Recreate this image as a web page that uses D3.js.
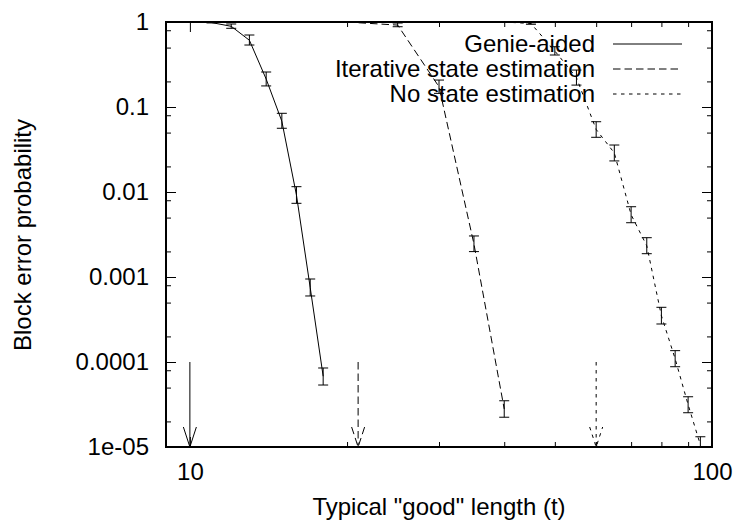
<!DOCTYPE html>
<html>
<head>
<meta charset="utf-8">
<script src="https://cdn.jsdelivr.net/npm/d3@7"></script>
<style>
  body { margin: 0; background: #fff; }
  text { font-family: "Liberation Sans", Arial, Helvetica, sans-serif; fill: #000; }
</style>
</head>
<body>
<div id="chart"></div>
<script>
// values
const genieT = [10, 11, 12, 13, 14, 15, 16, 17, 18]
const genieP = [0.999, 0.985, 0.89, 0.61, 0.213, 0.068, 0.0092, 0.00075, 0.000068]
const genieLo = [0.997, 0.975, 0.843, 0.536, 0.177, 0.0562, 0.00736, 0.000598, 0.0000536]
const genieHi = [1.0, 0.993, 0.947, 0.703, 0.258, 0.0843, 0.01155, 0.000947, 0.000085]

const iterT = [20, 25, 30, 35, 40]
const iterP = [0.998, 0.92, 0.173, 0.00244, 0.000028]
const iterLo = [0.995, 0.88, 0.1447, 0.00199, 0.0000224]
const iterHi = [1.0, 0.973, 0.2075, 0.00304, 0.000035]

const noT = [40, 45, 50, 55, 60, 65, 70, 75, 80, 85, 90, 95]
const noP = [0.999, 0.96, 0.456, 0.222, 0.0544, 0.0288, 0.0054, 0.00233, 0.00035, 0.000109, 0.0000315, 0.0000106]
const noLo = [0.997, 0.94, 0.409, 0.181, 0.044, 0.0232, 0.00435, 0.00188, 0.00028, 0.000088, 0.0000253, 0.0000085]
const noHi = [1.0, 0.98, 0.512, 0.272, 0.0671, 0.0357, 0.00671, 0.0029, 0.00044, 0.000136, 0.000039, 0.0000132]

// vertical arrows (one per series)
const arrowT = [10, 21, 60]
const arrowFrom = 1e-4
const arrowTo = 1e-5

const legendNames = ['Genie-aided', 'Iterative state estimation', 'No state estimation']

const xMajor = [10, 100]
const xMinor = [20, 30, 40, 50, 60, 70, 80, 90]
const yMajor = [1, 0.1, 0.01, 0.001, 0.0001, 0.00001]
const yLabels = ['1', '0.1', '0.01', '0.001', '0.0001', '1e-05']
const yMinor = [0.8, 0.5, 0.2, 0.08, 0.05, 0.02, 0.008, 0.005, 0.002,
  0.0008, 0.0005, 0.0002, 0.00008, 0.00005, 0.00002]

const margin = { top: 22, left: 166, right: 27, bottom: 78 }
const width = 739 - margin.left - margin.right
const height = 525 - margin.top - margin.bottom

const dashes = [null, '7.5,4', '3.5,4.5']
const fontSize = 24

const svg = d3.select('#chart')
  .append('svg')
  .attr('width', 739)
  .attr('height', 525)

const g = svg.append('g')
  .attr('transform', 'translate(' + margin.left + ',' + margin.top + ')')

const x = d3.scaleLog().domain([9, 100]).range([0, width])
const y = d3.scaleLog().domain([1e-5, 1]).range([height, 0])

g.append('clipPath').attr('id', 'clip')
  .append('rect').attr('width', width).attr('height', height)

// axes, ticks pointing into the plot like gnuplot
function styleAxis(sel) {
  sel.select('.domain').remove()
  sel.selectAll('line').attr('stroke', '#000').attr('stroke-width', 1)
  sel.selectAll('text').attr('font-size', fontSize).attr('font-family', null)
}

g.append('g')
  .attr('transform', 'translate(0,' + height + ')')
  .call(d3.axisBottom(x).tickValues(xMajor).tickSize(-10).tickPadding(15.5).tickFormat(d3.format('d')))
  .call(styleAxis)
g.append('g')
  .attr('transform', 'translate(0,' + height + ')')
  .call(d3.axisBottom(x).tickValues(xMinor).tickSize(-5).tickFormat(''))
  .call(styleAxis)
g.append('g')
  .call(d3.axisTop(x).tickValues(xMajor).tickSize(-10).tickFormat(''))
  .call(styleAxis)
g.append('g')
  .call(d3.axisTop(x).tickValues(xMinor).tickSize(-5).tickFormat(''))
  .call(styleAxis)

g.append('g')
  .call(d3.axisLeft(y).tickValues(yMajor).tickSize(-10).tickPadding(17)
    .tickFormat((d, i) => yLabels[i]))
  .call(styleAxis)
g.append('g')
  .call(d3.axisLeft(y).tickValues(yMinor).tickSize(-5).tickFormat(''))
  .call(styleAxis)
g.append('g')
  .attr('transform', 'translate(' + width + ',0)')
  .call(d3.axisRight(y).tickValues(yMajor).tickSize(-10).tickFormat(''))
  .call(styleAxis)
g.append('g')
  .attr('transform', 'translate(' + width + ',0)')
  .call(d3.axisRight(y).tickValues(yMinor).tickSize(-5).tickFormat(''))
  .call(styleAxis)

// frame
g.append('rect')
  .attr('width', width)
  .attr('height', height)
  .attr('fill', 'none')
  .attr('stroke', '#000')
  .attr('stroke-width', 2)

// axis titles
svg.append('text')
  .attr('x', margin.left + width / 2)
  .attr('y', 515)
  .attr('text-anchor', 'middle')
  .attr('font-size', fontSize)
  .text('Typical "good" length (t)')

svg.append('text')
  .attr('transform', 'translate(31,235) rotate(-90)')
  .attr('text-anchor', 'middle')
  .attr('font-size', fontSize)
  .text('Block error probability')

// legend
const legend = g.append('g')
legendNames.forEach(function (name, i) {
  const ly = 22 + i * 25
  legend.append('text')
    .attr('x', 595 - margin.left)
    .attr('y', ly)
    .attr('dy', '0.35em')
    .attr('text-anchor', 'end')
    .attr('font-size', fontSize)
    .text(name)
  legend.append('line')
    .attr('x1', 613 - margin.left)
    .attr('x2', 682 - margin.left)
    .attr('y1', ly)
    .attr('y2', ly)
    .attr('stroke', '#000')
    .attr('stroke-width', 1)
    .attr('stroke-dasharray', dashes[i])
})

// series
const series = [
  { t: genieT, p: genieP, lo: genieLo, hi: genieHi },
  { t: iterT, p: iterP, lo: iterLo, hi: iterHi },
  { t: noT, p: noP, lo: noLo, hi: noHi }
]

const plot = g.append('g').attr('clip-path', 'url(#clip)')
const line = d3.line()
  .x(d => x(d.t))
  .y(d => y(d.p))

series.forEach(function (s, k) {
  const pts = s.t.map((t, i) => ({ t: t, p: s.p[i], lo: s.lo[i], hi: s.hi[i] }))

  plot.append('path')
    .datum(pts)
    .attr('d', line)
    .attr('fill', 'none')
    .attr('stroke', '#000')
    .attr('stroke-width', 1)
    .attr('stroke-dasharray', dashes[k])

  const bars = plot.append('g')
    .selectAll('g')
    .data(pts)
    .enter()
    .append('g')
    .attr('stroke', '#000')
    .attr('stroke-width', 1)

  bars.append('line')
    .attr('x1', d => x(d.t)).attr('x2', d => x(d.t))
    .attr('y1', d => y(d.lo)).attr('y2', d => y(d.hi))
  bars.append('line')
    .attr('x1', d => x(d.t) - 5).attr('x2', d => x(d.t) + 5)
    .attr('y1', d => y(d.lo)).attr('y2', d => y(d.lo))
  bars.append('line')
    .attr('x1', d => x(d.t) - 5).attr('x2', d => x(d.t) + 5)
    .attr('y1', d => y(d.hi)).attr('y2', d => y(d.hi))
})

// arrows
arrowT.forEach(function (t, k) {
  const ax = x(t)
  const tip = y(arrowTo)
  const a = g.append('g')
    .attr('stroke', '#000')
    .attr('stroke-width', 1)
    .attr('fill', 'none')
    .attr('stroke-dasharray', dashes[k])
  a.append('line')
    .attr('x1', ax).attr('x2', ax)
    .attr('y1', y(arrowFrom)).attr('y2', tip)
  a.append('path')
    .attr('d', 'M' + (ax - 6.5) + ',' + (tip - 20) + 'L' + ax + ',' + tip + 'L' + (ax + 6.5) + ',' + (tip - 20))
})
</script>
</body>
</html>
